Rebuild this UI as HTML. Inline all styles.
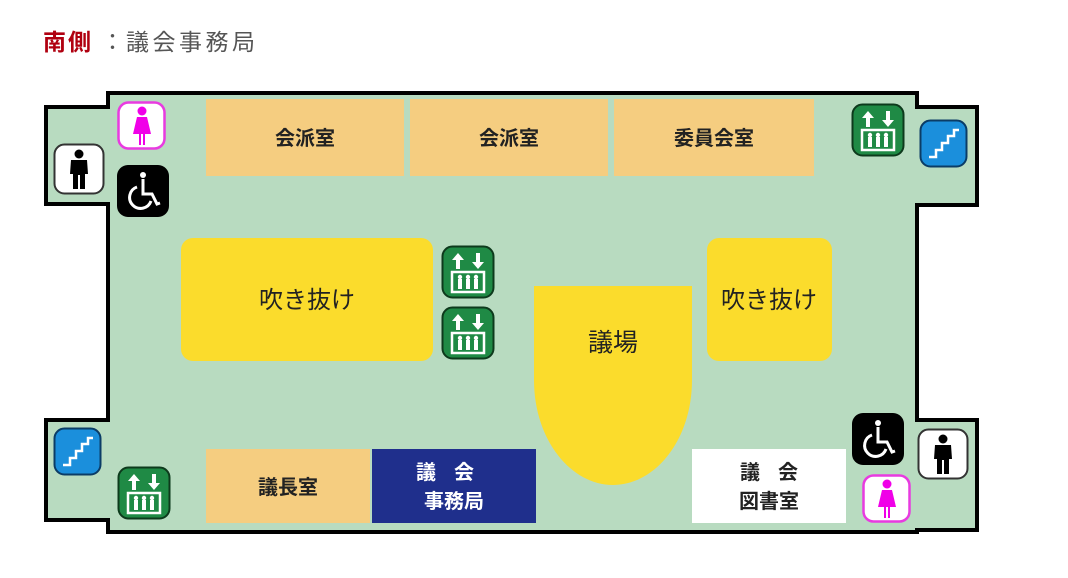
<!DOCTYPE html>
<html><head><meta charset="utf-8"><style>
html,body{margin:0;padding:0;background:#fff;width:1068px;height:578px;overflow:hidden}
svg{display:block}
text{font-family:"Liberation Sans","Noto Sans CJK JP",sans-serif}
</style></head><body>
<svg width="1068" height="578" viewBox="0 0 1068 578" xmlns="http://www.w3.org/2000/svg">
<defs>
<g id="elev">
 <rect x="1.5" y="1.5" width="51" height="51" rx="10" fill="#1f8a45" stroke="#0d3a1c" stroke-width="2"/>
 <path d="M17 8 L11 15 H15 V24 H19 V15 H23 Z M37 24 L31 17 H35 V8 H39 V17 H43 Z" fill="#fff"/>
 <rect x="11" y="27" width="32" height="20" fill="none" stroke="#fff" stroke-width="2.5"/>
 <g fill="#fff"><circle cx="19" cy="32" r="2.2"/><rect x="17" y="34" width="4" height="10"/><circle cx="27" cy="32" r="2.2"/><rect x="25" y="34" width="4" height="10"/><circle cx="35" cy="32" r="2.2"/><rect x="33" y="34" width="4" height="10"/></g>
</g>
<g id="stairs">
 <rect x="1.5" y="1.5" width="46" height="46" rx="10" fill="#1b8fdc" stroke="#0b3c66" stroke-width="2"/>
 <path d="M10 38 H17 V31 H23 V24 H29 V17 H35 V11 H40" fill="none" stroke="#fff" stroke-width="2.5"/>
</g>
<g id="wheel">
 <rect x="0" y="0" width="52" height="52" rx="11" fill="#000"/>
 <circle cx="26" cy="10" r="3" fill="#fff"/>
 <path d="M26 14 V29 H35 L40 39 L43 38" fill="none" stroke="#fff" stroke-width="3"/>
 <path d="M20 22 A11 11 0 1 0 34 36" fill="none" stroke="#fff" stroke-width="3"/>
</g>
<g id="male">
 <rect x="1.5" y="1.5" width="49" height="49" rx="10" fill="#fff" stroke="#333" stroke-width="2"/>
 <circle cx="26" cy="11" r="4.5" fill="#000"/>
 <path d="M18 17 H34 L35 31 H32 V46 H27 V32 H25 V46 H20 V31 H17 Z" fill="#000"/>
</g>
<g id="female">
 <rect x="1.5" y="1.5" width="46" height="46" rx="10" fill="#fff" stroke="#e83be0" stroke-width="2.5"/>
 <circle cx="25" cy="10" r="4.5" fill="#f000e8"/>
 <path d="M20 16 H30 L34 33 H28 V44 H26 V33 H24 V44 H22 V33 H16 Z" fill="#f000e8"/>
</g>
</defs>

<text x="43" y="50" font-size="23" fill="#b00010" font-weight="bold" letter-spacing="2">南側</text>
<text x="101" y="50" font-size="23" fill="#555">：</text>
<text x="126" y="50" font-size="23" fill="#555" letter-spacing="3.5">議会事務局</text>

<path d="M108 93 H917 V107 H977 V205 H917 V420 H977 V530 H917 V532 H108 V520 H46 V420 H108 V204 H46 V107 H108 Z" fill="#b8dbc0" stroke="#000" stroke-width="4" stroke-linejoin="miter"/>

<g fill="#f5cd80">
<rect x="206" y="99" width="198" height="77"/>
<rect x="410" y="99" width="198" height="77"/>
<rect x="614" y="99" width="200" height="77"/>
<rect x="206" y="449" width="164" height="74"/>
</g>
<g font-size="20" font-weight="bold" fill="#222" text-anchor="middle">
<text x="305" y="145">会派室</text>
<text x="509" y="145">会派室</text>
<text x="714" y="145">委員会室</text>
<text x="288" y="494">議長室</text>
</g>

<rect x="181" y="238" width="252" height="123" rx="12" fill="#fbdc2c"/>
<rect x="707" y="238" width="125" height="123" rx="12" fill="#fbdc2c"/>
<path d="M534 286 H692 V380 C692 440 655 485 613 485 C571 485 534 440 534 380 Z" fill="#fbdc2c"/>
<g font-size="24" fill="#222" text-anchor="middle">
<text x="307" y="308">吹き抜け</text>
<text x="769" y="308">吹き抜け</text>
<text x="613" y="351" font-size="25">議場</text>
</g>

<rect x="372" y="449" width="164" height="74" fill="#1f2f8c"/>
<g font-size="20" font-weight="bold" fill="#fff" text-anchor="middle">
<text x="454" y="479" letter-spacing="18">議会</text>
<text x="454" y="508">事務局</text>
</g>
<rect x="692" y="449" width="154" height="74" fill="#fff"/>
<g font-size="20" font-weight="bold" fill="#222" text-anchor="middle">
<text x="778" y="479" letter-spacing="18">議会</text>
<text x="769" y="508">図書室</text>
</g>

<use href="#female" x="117" y="101"/>
<use href="#male" x="53" y="143"/>
<use href="#wheel" x="117" y="165"/>
<use href="#elev" x="851" y="103"/>
<use href="#stairs" x="919" y="119"/>
<use href="#elev" x="441" y="245"/>
<use href="#elev" x="441" y="306"/>
<use href="#stairs" x="53" y="427"/>
<use href="#elev" x="117" y="466"/>
<use href="#wheel" x="852" y="413"/>
<use href="#male" x="917" y="428"/>
<use href="#female" x="862" y="474"/>
</svg>
</body></html>
